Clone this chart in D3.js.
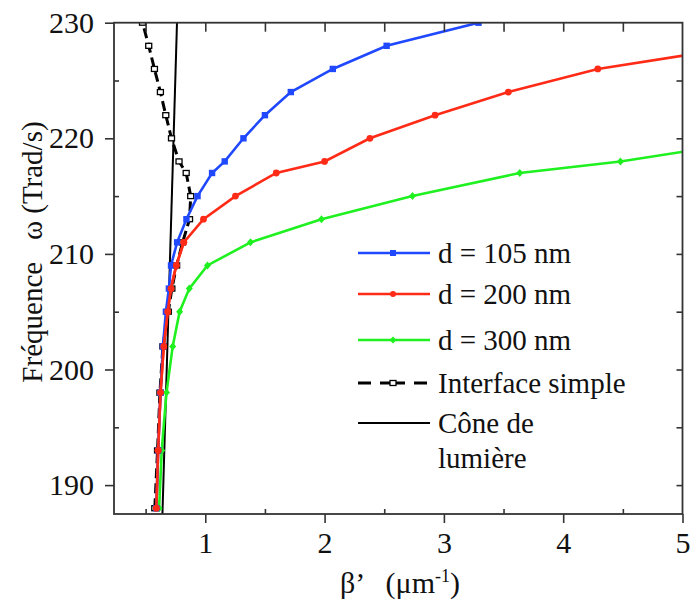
<!DOCTYPE html>
<html><head><meta charset="utf-8">
<script src="https://cdn.jsdelivr.net/npm/d3@7"></script>
<style>
html,body{margin:0;padding:0;background:#fff;}
svg text{font-family:"Liberation Serif","Tinos","Times New Roman","DejaVu Serif",serif;fill:#111;}
</style></head>
<body><svg id="chart" width="691" height="608"></svg>
<script>
// ---- data (β' in µm^-1, ω in Trad/s) ----
const d105_beta  = [0.59,0.605,0.625,0.645,0.67,0.695,0.713,0.764,0.842,0.935,1.057,1.163,1.32,1.5,1.717,2.069,2.52,3.29];
const d105_omega = [188,193,198,202,205,207,209,211,213,215,217,218,220,222,224,226,228,230];
const d200_beta  = [0.59,0.605,0.625,0.652,0.685,0.712,0.757,0.82,0.985,1.253,1.595,2.0,2.38,2.926,3.54,4.29,5.53];
const d200_omega = [188,193,198,202,205,207,209,211,213,215,217,218,220,222,224,226,228];
const d300_beta  = [0.613,0.635,0.675,0.727,0.785,0.866,1.018,1.379,1.974,2.737,3.636,4.48,5.73];
const d300_omega = [188,193,198,202,205,207,209,211,213,215,217,218,220];
const iface_beta  = [0.577,0.6,0.62,0.645,0.69,0.72,0.76,0.81,0.868,0.878,0.84,0.78,0.717,0.669,0.624,0.574,0.526,0.474];
const iface_omega = [188,193,198,202,205,207,209,211,213,215,217,218,220,222,224,226,228,230];
const cone_beta  = [0.641,0.763];
const cone_omega = [187.5,230];
const xMajorTicks = [1,2,3,4,5];
const xMinorTicks = [0.5,1.5,2.5,3.5,4.5];
const xTopTicks   = [0.5,1,1.5,2,2.5,3,3.5,4,4.5];
const yMajorTicks = [190,200,210,220,230];
const yMinorTicks = [195,205,215,225];
const yRightTicks = [190,195,200,205,210,215,220,225];
const seriesNames = ["d = 105 nm","d = 200 nm","d = 300 nm","Interface simple","Cône de|lumière"];
const seriesColors = ["#1f48ff","#ff2b17","#1ff01f","#000","#000"];

const FONT = '"Liberation Serif","Tinos","Times New Roman","DejaVu Serif",serif';
const svg = d3.select("#chart");
const W = 691, H = 608;
const m = {left:114, right:8.5, top:22.7, bottom:94};
const x = d3.scaleLinear().domain([0.235,5]).range([m.left, W-m.right]);
const y = d3.scaleLinear().domain([187.5,230]).range([H-m.bottom, m.top]);

svg.append("defs").append("clipPath").attr("id","clip")
  .append("rect").attr("x",m.left).attr("y",m.top)
  .attr("width",x.range()[1]-m.left).attr("height",y.range()[0]-m.top);

const plot = svg.append("g").attr("clip-path","url(#clip)");
const line = d3.line().x(d=>x(d[0])).y(d=>y(d[1]));
const zip = (a,b)=>a.map((v,i)=>[v,b[i]]);

// light cone
plot.append("path").datum(zip(cone_beta,cone_omega)).attr("d",line)
  .attr("fill","none").attr("stroke","#000").attr("stroke-width",2);

// interface simple (dashed)
const ifd = zip(iface_beta,iface_omega);
plot.append("path").datum(ifd).attr("d",line)
  .attr("fill","none").attr("stroke","#000").attr("stroke-width",3).attr("stroke-dasharray","10,5");
plot.selectAll(".ifm").data(ifd).enter().append("rect")
  .attr("x",d=>x(d[0])-3).attr("y",d=>y(d[1])-2.5).attr("width",6).attr("height",5)
  .attr("fill","#fff").attr("stroke","#000").attr("stroke-width",1.3);

function drawSeries(data,color,shape){
  plot.append("path").datum(data).attr("d",line)
    .attr("fill","none").attr("stroke",color).attr("stroke-width",2.6);
  const g = plot.append("g");
  data.forEach(d=>{
    const cx=x(d[0]), cy=y(d[1]);
    if(shape==="square") g.append("rect").attr("x",cx-3.2).attr("y",cy-3.2).attr("width",6.4).attr("height",6.4).attr("fill",color);
    else if(shape==="circle") g.append("circle").attr("cx",cx).attr("cy",cy).attr("r",3.4).attr("fill",color);
    else g.append("path").attr("d",`M${cx},${cy-4}L${cx+3.5},${cy}L${cx},${cy+4}L${cx-3.5},${cy}Z`).attr("fill",color);
  });
}
drawSeries(zip(d300_beta,d300_omega),seriesColors[2],"diamond");
drawSeries(zip(d200_beta,d200_omega),seriesColors[1],"circle");
drawSeries(zip(d105_beta,d105_omega),seriesColors[0],"square");
drawSeries(zip(d200_beta.slice(0,8),d200_omega.slice(0,8)),seriesColors[1],"circle");

// ---- axes ----
const axCol = "#333";
function styleAxis(g){
  g.attr("font-family",null);
  g.select(".domain").remove();
  g.selectAll("line").attr("stroke",axCol).attr("stroke-width",1.6);
  g.selectAll("text").attr("font-size",30).style("font-family",FONT).attr("fill","#111");
}
const yb = y.range()[0], xr = x.range()[1];
svg.append("g").attr("transform",`translate(0,${yb})`)
  .call(d3.axisBottom(x).tickValues(xMajorTicks).tickSize(9).tickPadding(9).tickFormat(d3.format("d"))).call(styleAxis);
svg.append("g").attr("transform",`translate(0,${yb})`)
  .call(d3.axisBottom(x).tickValues(xMinorTicks).tickSize(-5).tickFormat("")).call(styleAxis);
svg.append("g").attr("transform",`translate(0,${m.top})`)
  .call(d3.axisTop(x).tickValues(xTopTicks).tickSize(-9).tickFormat("")).call(styleAxis);
svg.append("g").attr("transform",`translate(${m.left},0)`)
  .call(d3.axisLeft(y).tickValues(yMajorTicks).tickSize(9).tickPadding(11).tickFormat(d3.format("d"))).call(styleAxis);
svg.append("g").attr("transform",`translate(${m.left},0)`)
  .call(d3.axisLeft(y).tickValues(yMinorTicks).tickSize(-5).tickFormat("")).call(styleAxis);
svg.append("g").attr("transform",`translate(${xr},0)`)
  .call(d3.axisRight(y).tickValues(yRightTicks).tickSize(-6).tickFormat("")).call(styleAxis);
svg.append("rect").attr("x",m.left).attr("y",m.top).attr("width",xr-m.left).attr("height",yb-m.top)
  .attr("fill","none").attr("stroke",axCol).attr("stroke-width",1.8);

// axis titles
const xt = svg.append("text").attr("x",400).attr("y",593).attr("text-anchor","middle").attr("font-size",30)
  .style("font-family",FONT).style("white-space","pre");
xt.append("tspan").text("β’   (μm");
xt.append("tspan").attr("font-size",18).attr("dy",-11).text("-1");
xt.append("tspan").attr("dy",11).text(")");
svg.append("text").attr("transform","translate(42,252) rotate(-90)").attr("text-anchor","middle")
  .attr("font-size",29).style("font-family",FONT).style("white-space","pre").text("Fréquence   ω (Trad/s)");

// legend
const lg = svg.append("g");
const rows = [253,294,340,383,423];
seriesNames.forEach((name,i)=>{
  const ly = rows[i];
  const col = seriesColors[i];
  if(i<3){
    lg.append("line").attr("x1",358).attr("x2",430).attr("y1",ly).attr("y2",ly).attr("stroke",col).attr("stroke-width",2.6);
    if(i===0) lg.append("rect").attr("x",390).attr("y",ly-3).attr("width",6).attr("height",6).attr("fill",col);
    else if(i===1) lg.append("circle").attr("cx",393).attr("cy",ly).attr("r",3).attr("fill",col);
    else lg.append("path").attr("d",`M393,${ly-3.5}L396.5,${ly}L393,${ly+3.5}L389.5,${ly}Z`).attr("fill",col);
  } else if(i===3){
    lg.append("line").attr("x1",358).attr("x2",430).attr("y1",ly).attr("y2",ly).attr("stroke","#000").attr("stroke-width",3).attr("stroke-dasharray","13,9,25,9,13");
    lg.append("rect").attr("x",390).attr("y",ly-2.5).attr("width",6).attr("height",5).attr("fill","#fff").attr("stroke","#000").attr("stroke-width",1.3);
  } else {
    lg.append("line").attr("x1",358).attr("x2",430).attr("y1",ly).attr("y2",ly).attr("stroke","#000").attr("stroke-width",2.2);
  }
  name.split("|").forEach((p,j)=>{
    lg.append("text").attr("x",438).attr("y",ly+j*35).attr("dy","0.35em").attr("font-size",29).style("font-family",FONT).text(p);
  });
});
</script></body></html>
